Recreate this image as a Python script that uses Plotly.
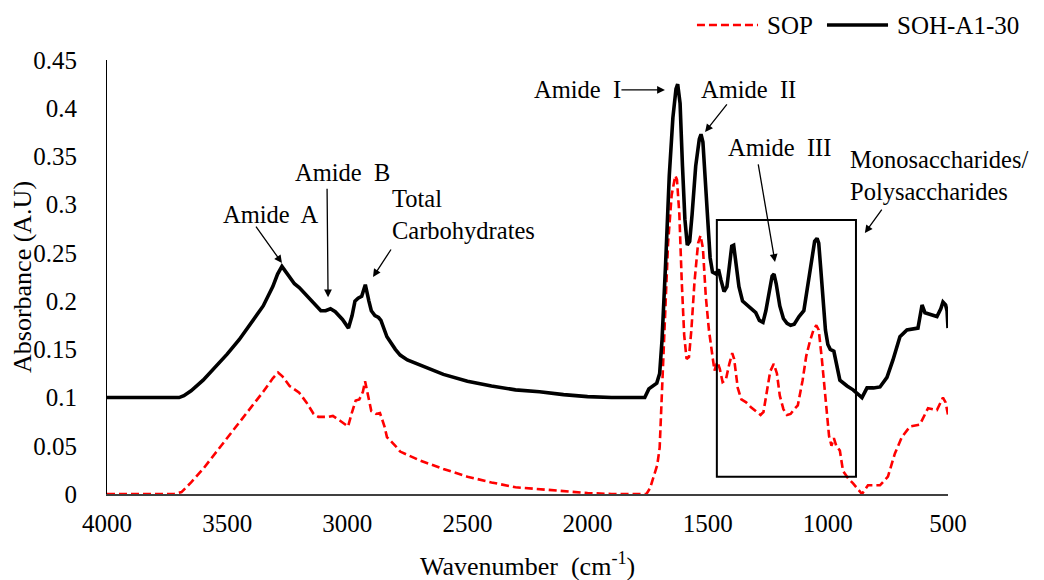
import plotly.graph_objects as go

# ---------------- data ----------------
soh_wn = [4000, 3800, 3700, 3680, 3650, 3600, 3550, 3500, 3450, 3400, 3350, 3310, 3290, 3272,
          3250, 3220, 3200, 3170, 3140, 3110, 3090, 3070, 3050, 3020, 2995, 2980, 2968, 2955,
          2940, 2925, 2910, 2900, 2885, 2870, 2860, 2845, 2835, 2800, 2780, 2750, 2700, 2600,
          2500, 2400, 2300, 2200, 2100, 2000, 1900, 1800, 1762, 1745, 1725, 1712, 1700, 1690,
          1675, 1660, 1645, 1632, 1625, 1615, 1605, 1595, 1585, 1575, 1565, 1550, 1535, 1528,
          1520, 1510, 1500, 1490, 1480, 1465, 1455, 1445, 1432, 1420, 1410, 1400, 1392, 1385,
          1370, 1355, 1340, 1320, 1300, 1285, 1270, 1258, 1245, 1232, 1224, 1215, 1200, 1185,
          1170, 1155, 1140, 1120, 1100, 1085, 1070, 1055, 1045, 1038, 1030, 1020, 1010, 1000,
          990, 975, 965, 950, 920, 895, 858, 837, 810, 783, 754, 729, 700, 671, 625, 612, 608,
          596, 570, 546, 530, 521, 510, 504, 500]
soh_abs = [0.100, 0.100, 0.100, 0.102, 0.107, 0.118, 0.131, 0.145, 0.160, 0.177, 0.195, 0.215,
           0.228, 0.236, 0.228, 0.218, 0.214, 0.206, 0.197, 0.190, 0.190, 0.192, 0.189, 0.181,
           0.172, 0.185, 0.200, 0.203, 0.205, 0.217, 0.200, 0.190, 0.185, 0.183, 0.180, 0.170,
           0.163, 0.150, 0.144, 0.139, 0.134, 0.124, 0.117, 0.112, 0.108, 0.106, 0.103, 0.101,
           0.100, 0.100, 0.100, 0.109, 0.113, 0.115, 0.125, 0.160, 0.240, 0.330, 0.390, 0.420,
           0.425, 0.405, 0.340, 0.285, 0.258, 0.262, 0.290, 0.340, 0.368, 0.373, 0.365, 0.330,
           0.285, 0.245, 0.230, 0.228, 0.233, 0.222, 0.210, 0.215, 0.240, 0.257, 0.258, 0.245,
           0.215, 0.200, 0.197, 0.192, 0.188, 0.180, 0.178, 0.190, 0.210, 0.226, 0.228, 0.218,
           0.195, 0.182, 0.177, 0.175, 0.176, 0.184, 0.190, 0.215, 0.240, 0.262, 0.265, 0.260,
           0.235, 0.200, 0.170, 0.155, 0.150, 0.148, 0.137, 0.118, 0.112, 0.108, 0.100, 0.110,
           0.110, 0.111, 0.121, 0.139, 0.163, 0.170, 0.172, 0.190, 0.196, 0.188, 0.186, 0.184,
           0.192, 0.199, 0.196, 0.190, 0.172]

sop_wn = [4000, 3800, 3720, 3690, 3650, 3600, 3550, 3500, 3450, 3400, 3350, 3310, 3288, 3270,
          3240, 3200, 3170, 3140, 3120, 3080, 3060, 3030, 2997, 2980, 2965, 2950, 2935, 2926,
          2912, 2900, 2880, 2864, 2845, 2835, 2800, 2780, 2700, 2600, 2500, 2400, 2300, 2200,
          2100, 2000, 1900, 1800, 1755, 1740, 1728, 1710, 1700, 1692, 1680, 1665, 1650, 1635,
          1628, 1618, 1608, 1598, 1588, 1578, 1568, 1555, 1540, 1530, 1520, 1508, 1495, 1485,
          1472, 1460, 1450, 1438, 1425, 1410, 1398, 1390, 1375, 1360, 1340, 1320, 1300, 1280,
          1268, 1255, 1240, 1225, 1212, 1200, 1185, 1170, 1155, 1140, 1125, 1105, 1090, 1075,
          1060, 1048, 1038, 1025, 1012, 1002, 995, 985, 975, 965, 950, 937, 915, 895, 858, 833,
          783, 750, 721, 692, 658, 617, 583, 546, 521, 510, 500]
sop_abs = [0.000, 0.000, 0.000, 0.002, 0.012, 0.026, 0.042, 0.057, 0.074, 0.090, 0.106, 0.120,
           0.126, 0.122, 0.112, 0.105, 0.095, 0.083, 0.080, 0.080, 0.081, 0.076, 0.070, 0.085,
           0.097, 0.098, 0.106, 0.117, 0.100, 0.086, 0.083, 0.084, 0.070, 0.059, 0.050, 0.044,
           0.035, 0.026, 0.018, 0.012, 0.007, 0.005, 0.003, 0.001, 0.000, 0.000, 0.000, 0.006,
           0.015, 0.030, 0.048, 0.100, 0.180, 0.260, 0.310, 0.330, 0.326, 0.290, 0.220, 0.165,
           0.140, 0.142, 0.170, 0.220, 0.260, 0.268, 0.255, 0.205, 0.170, 0.150, 0.128, 0.137,
           0.130, 0.116, 0.118, 0.135, 0.146, 0.140, 0.110, 0.098, 0.095, 0.090, 0.086, 0.082,
           0.085, 0.105, 0.127, 0.135, 0.125, 0.102, 0.088, 0.082, 0.083, 0.088, 0.092, 0.118,
           0.143, 0.158, 0.170, 0.175, 0.170, 0.140, 0.105, 0.080, 0.060, 0.050, 0.058, 0.050,
           0.045, 0.024, 0.016, 0.011, 0.000, 0.009, 0.009, 0.018, 0.042, 0.059, 0.070, 0.072,
           0.089, 0.087, 0.100, 0.095, 0.082]

x_ticks = [4000, 3500, 3000, 2500, 2000, 1500, 1000, 500]
x_tick_labels = ["4000", "3500", "3000", "2500", "2000", "1500", "1000", "500"]
y_ticks = [0, 0.05, 0.1, 0.15, 0.2, 0.25, 0.3, 0.35, 0.4, 0.45]
y_tick_labels = ["0", "0.05", "0.1", "0.15", "0.2", "0.25", "0.3", "0.35", "0.4", "0.45"]

# band labels: text, x, y (data), anchor
band_labels = [
    ("Amide  A", 3317, 0.290, "center"),
    ("Amide  B", 3018, 0.333, "center"),
    ("Total<br>Carbohydrates", 2822, 0.290, "left"),
    ("Amide  I", 2040, 0.419, "center"),
    ("Amide  II", 1332, 0.419, "center"),
    ("Amide  III", 1203, 0.359, "center"),
    ("Monosaccharides/<br>Polysaccharides", 916, 0.330, "left"),
]
# arrows: tip x, tip y (data), tail offset in px (dx, dy)
arrow_tips = [
    (3272, 0.2395, -27, -38),
    (3080, 0.204, -1, -110),
    (2893, 0.225, 19, -29),
    (1678, 0.419, -45, 0),
    (1511, 0.3754, 23, -29),
    (1220, 0.2406, -17, -99),
    (846, 0.2706, 18, -25),
]
# highlighted region box
box_x = [1462, 883]
box_y = [0.018, 0.284]

FONT = "'Times New Roman', 'Liberation Serif', 'DejaVu Serif', serif"

fig = go.Figure()
fig.add_trace(go.Scatter(x=sop_wn, y=sop_abs, mode="lines", name="SOP",
                         line=dict(color="#ff0000", width=2.6, dash="8px,4px")))
fig.add_trace(go.Scatter(x=soh_wn, y=soh_abs, mode="lines", name="SOH-A1-30",
                         line=dict(color="#000000", width=3.6)))

fig.add_shape(type="rect", xref="x", yref="y", x0=box_x[0], x1=box_x[1], y0=box_y[0], y1=box_y[1],
              line=dict(color="#000000", width=2), fillcolor="rgba(0,0,0,0)")

for txt, x, y, anc in band_labels:
    fig.add_annotation(x=x, y=y, xref="x", yref="y", text=txt, showarrow=False,
                       xanchor=anc, yanchor="middle", align="left",
                       font=dict(family=FONT, size=24.5, color="#000"))

for x, y, dx, dy in arrow_tips:
    fig.add_annotation(x=x, y=y, xref="x", yref="y", text="", showarrow=True,
                       ax=dx, ay=dy, arrowhead=2, arrowsize=1.2, arrowwidth=1.3,
                       arrowcolor="#000", standoff=0, startstandoff=0)

# legend drawn as keys in paper space (long sample lines like the reference)
legend_items = [("SOP", "#ff0000", "8px,4px", 2.6, 0.7015, 0.7741, 0.7824),
                ("SOH-A1-30", "#000000", "solid", 3.6, 0.8561, 0.9287, 0.9370)]
for name, col, dash, w, x0, x1, xt in legend_items:
    fig.add_shape(type="line", xref="paper", yref="paper", x0=x0, x1=x1, y0=1.0806, y1=1.0806,
                  line=dict(color=col, width=w, dash=dash))
    fig.add_annotation(x=xt, y=1.0806, xref="paper", yref="paper", text=name, showarrow=False,
                       xanchor="left", yanchor="middle", font=dict(family=FONT, size=25, color="#000"))

# axis titles
fig.add_annotation(x=0, y=0.5, xref="paper", yref="paper", xshift=-85, text="Absorbance (A.U)",
                   textangle=-90, showarrow=False, xanchor="center", yanchor="middle",
                   font=dict(family=FONT, size=26, color="#000"))
fig.add_annotation(x=0.5, y=0, xref="paper", yref="paper", yshift=-70,
                   text="Wavenumber  (cm<sup>-1</sup>)", showarrow=False,
                   xanchor="center", yanchor="middle", font=dict(family=FONT, size=26, color="#000"))

fig.update_layout(
    width=1044, height=580,
    margin=dict(l=107, r=96, t=60, b=86),
    paper_bgcolor="white", plot_bgcolor="white",
    font=dict(family=FONT, size=25, color="#000"),
    showlegend=False,
    xaxis=dict(range=[4000, 500], tickvals=x_ticks, ticktext=x_tick_labels,
               showgrid=False, zeroline=False, showline=True, linecolor="#404040", linewidth=1.5,
               ticks="", ticklabelstandoff=6, tickfont=dict(family=FONT, size=25, color="#000")),
    yaxis=dict(range=[0, 0.45], tickvals=y_ticks, ticktext=y_tick_labels,
               showgrid=False, zeroline=False, showline=True, linecolor="#000", linewidth=1,
               ticks="", ticklabelstandoff=24, tickfont=dict(family=FONT, size=25, color="#000")),
)

fig.write_html("out.html")
